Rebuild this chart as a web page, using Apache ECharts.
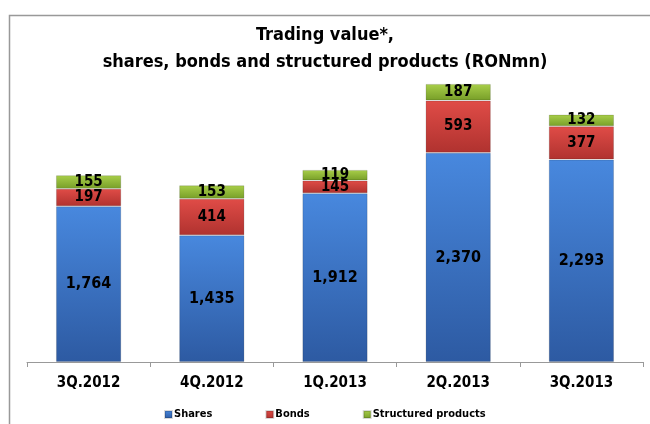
<!DOCTYPE html>
<html>
<head>
<meta charset="utf-8">
<script src="https://cdn.jsdelivr.net/npm/echarts@6/dist/echarts.min.js"></script>
<style>
  html, body { margin: 0; padding: 0; background: #fff; }
  #chart { width: 650px; height: 424px; }
</style>
</head>
<body>
<div id="chart"></div>
<script>
const quarters = ['3Q.2012', '4Q.2012', '1Q.2013', '2Q.2013', '3Q.2013'];
const shares = [1764, 1435, 1912, 2370, 2293];
const bonds = [197, 414, 145, 593, 377];
const structured = [155, 153, 119, 187, 132];

const FONT = "'Liberation Sans Narrow', 'DejaVu Sans Condensed', 'Arial Narrow', sans-serif";

// vertical gradient per segment, lighter on top
function grad(top, bottom) {
  return new echarts.graphic.LinearGradient(0, 0, 0, 1, [
    { offset: 0, color: top },
    { offset: 1, color: bottom },
  ]);
}

function seg(name, data, top, bottom, fontSize) {
  return {
    name,
    type: 'bar',
    stack: 'total',
    data,
    barWidth: '53%',
    itemStyle: { color: grad(top, bottom), borderColor: 'rgba(0,0,0,0.15)', borderWidth: 1 },
    label: {
      show: true,
      position: 'inside',
      color: '#000',
      fontFamily: FONT,
      fontWeight: 'bold',
      fontSize,
      formatter: (p) => p.value.toLocaleString('en-US'),
    },
  };
}

const chart = echarts.init(document.getElementById('chart'));
chart.setOption({
  animation: false,
  title: {
    text: 'Trading value*,\nshares, bonds and structured products (RONmn)',
    left: 'center',
    top: 17,
    textStyle: { fontFamily: FONT, fontWeight: 'bold', fontSize: 18, lineHeight: 27, color: '#000' },
  },
  legend: {
    left: 159,
    top: 404,
    icon: 'rect',
    itemWidth: 7,
    itemHeight: 7,
    itemGap: 53,
    textStyle: { fontFamily: FONT, fontWeight: 'bold', fontSize: 11, color: '#000', padding: [0, 0, 0, -3] },
    data: ['Shares', 'Bonds', 'Structured products'],
  },
  grid: { left: 27, right: 7, top: 53, bottom: 62 },
  xAxis: {
    type: 'category',
    data: quarters,
    axisLine: { lineStyle: { color: '#999' } },
    axisTick: { show: true, length: 5, lineStyle: { color: '#999' } },
    axisLabel: { fontFamily: FONT, fontWeight: 'bold', fontSize: 15, color: '#000', margin: 14 },
  },
  yAxis: { type: 'value', min: 0, max: 3500, show: false },
  series: [
    seg('Shares', shares, '#4888de', '#2d5aa2', 16),
    seg('Bonds', bonds, '#e04c47', '#b0322f', 15),
    seg('Structured products', structured, '#a9cf4a', '#779e28', 15),
  ],
  graphic: [{
    type: 'rect',
    shape: { x: 9.5, y: 15.5, width: 660, height: 440 },
    style: { fill: 'none', stroke: '#999', lineWidth: 1.5 },
    silent: true,
  }],
});
</script>
</body>
</html>
